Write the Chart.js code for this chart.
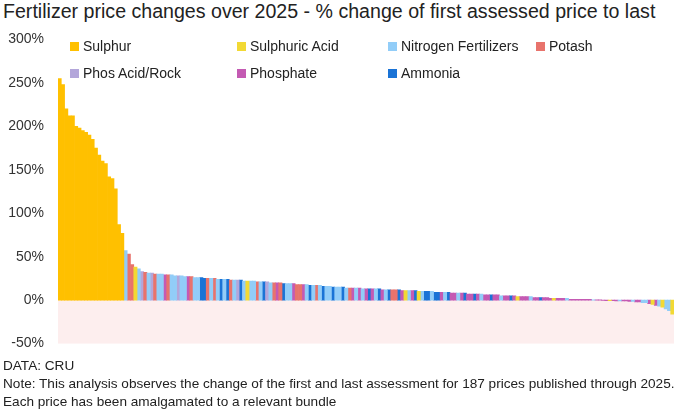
<!DOCTYPE html>
<html>
<head>
<meta charset="utf-8">
<script src="https://cdn.jsdelivr.net/npm/chart.js@4"></script>
<style>
  body { margin: 0; background: #fff; font-family: "Liberation Sans", Arial, sans-serif; color: #222; }
  #wrap { position: relative; width: 680px; height: 412px; }
  #title { position: absolute; left: 3px; top: 0px; font-size: 19.6px; }
  #chartBox { position: absolute; left: 0; top: 25px; width: 680px; height: 333px; }
  #legend { position: absolute; left: 0; top: 38px; font-size: 14px; }
  .item { position: absolute; white-space: nowrap; }
  .item i { display: inline-block; width: 9px; height: 9px; margin-right: 4px; }
  #notes { position: absolute; left: 3px; top: 357px; font-size: 13.6px; line-height: 18px; }
</style>
</head>
<body>
<div id="wrap">
  <div id="title">Fertilizer price changes over 2025 - % change of first assessed price to last</div>
  <div id="chartBox"><canvas id="c"></canvas></div>
  <div id="legend"></div>
  <div id="notes">DATA: CRU<br>Note: This analysis observes the change of the first and last assessment for 187 prices published through 2025.<br>Each price has been amalgamated to a relevant bundle</div>
</div>
<script>
const bundleNames = ['Sulphur', 'Sulphuric Acid', 'Nitrogen Fertilizers', 'Potash', 'Phos Acid/Rock', 'Phosphate', 'Ammonia'];
const bundleCodes = ['S', 'A', 'N', 'K', 'R', 'P', 'M'];
const bundleColors = ['#ffc000', '#f2d934', '#92cdf8', '#e8736c', '#b3a6da', '#c45ab3', '#1a73d6'];

const values = [
  255, 248, 220, 212, 212, 200, 198, 195, 193, 190, 185, 175, 167, 160, 157, 142, 140, 128, 87, 77,
  57, 53, 41, 38, 36, 33, 32, 31, 31, 30,
  30, 30, 29, 29, 29, 28, 28, 28, 27, 27, 27, 26, 26, 26, 25, 25, 25, 25, 24, 24, 24, 24, 23, 23, 23, 23,
  22, 22, 22, 22, 21, 21, 21, 21, 20, 20, 20, 20, 19, 19, 19, 19, 18, 18, 18, 18, 17, 17, 17, 17, 16, 16, 16, 15, 15,
  15, 15, 14, 14, 14, 14, 14, 13, 13, 13, 13, 13, 13, 12, 12, 12, 12, 12, 12, 11, 11, 11, 11, 11, 10, 10, 10, 10, 10,
  9, 9, 9, 9, 9, 8, 8, 8, 8, 8, 7, 7, 7, 7, 7, 6, 6, 6, 6, 6, 5, 5, 5, 5, 5, 4, 4, 4, 4, 4, 3, 3, 3, 3, 3,
  2, 2, 2, 2, 2, 2, 1, 1, 1, 1, 1, 1, 1, 0.5, 0.5, 0.5,
  -0.3, -0.5, -0.5, -0.5, -0.8, -1, -1, -1, -1.5, -1.5, -2, -2, -3, -3, -4, -5, -6, -7, -8, -10, -12, -16
];
const bundles = [
  'S','S','S','S','S','S','S','S','S','S','S','S','S','S','S','S','S','S','S','S',
  'N','K','K','A','N','R','K','N','R','K',
  'N','N','P','K','N', 'N','R','N','N','P', 'K','N','N','M','M', 'K','N','K','N','M', 'N','M','K','N','R',
  'M','N','A','N','N', 'K','N','M','R','N', 'K','P','K','M','N', 'N','P','K','K','P', 'N','M','N','K','N', 'M','N','N','M','N',
  'N','M','N','K','P', 'N','P','N','P','M', 'P','N','M','P','N', 'M','K','K','M','P', 'A','N','P','M','A', 'N','M','M','N','M',
  'M','P','N','M','P', 'P','N','P','M','P', 'P','M','P','N','P', 'P','M','P','P','N', 'P','P','M','P','A', 'P','P','P','N','P',
  'P','M','P','P','P', 'A','P','P','P','N', 'P','P','P','P','P', 'P','P','N','P','P',
  'P','P','A','P','P','N','P','P','P','N','P','P','N','N','P','A','P','N','A','N','N','A'
];
const yTicks = [-50, 0, 50, 100, 150, 200, 250, 300];

const labels = values.map((v, i) => i + 1);
const datasets = bundleCodes.map((code, k) => ({
  label: bundleNames[k],
  data: values.map((v, i) => bundles[i] === code ? v : null),
  backgroundColor: bundleColors[k],
  barPercentage: 1,
  categoryPercentage: 1,
  borderWidth: 0
}));

// pink band below zero
const negBand = {
  id: 'negBand',
  beforeDatasetsDraw(chart) {
    const { ctx, chartArea, scales } = chart;
    const top = scales.y.getPixelForValue(0);
    const bottom = scales.y.getPixelForValue(-50);
    ctx.save();
    ctx.fillStyle = '#fdeeee';
    ctx.fillRect(chartArea.left, top, chartArea.right - chartArea.left, bottom - top);
    ctx.restore();
  }
};

new Chart(document.getElementById('c'), {
  type: 'bar',
  data: { labels, datasets },
  plugins: [negBand],
  options: {
    responsive: true,
    maintainAspectRatio: false,
    animation: false,
    layout: { padding: { left: 0, right: 6, top: 4, bottom: 4 } },
    plugins: { legend: { display: false }, tooltip: { enabled: false } },
    scales: {
      x: { stacked: true, display: false },
      y: {
        stacked: true,
        min: -50, max: 300,
        afterBuildTicks: axis => { axis.ticks = yTicks.map(v => ({ value: v })); },
        grid: { display: false },
        border: { display: false },
        ticks: { color: '#333', font: { size: 14, family: 'Liberation Sans' }, callback: v => v + '%', padding: 6 },
        afterFit: axis => { axis.width = 58; }
      }
    }
  }
});

const legendPos = [[70, 0], [237, 0], [388, 0], [536, 0], [70, 27], [237, 27], [388, 27]];
const leg = document.getElementById('legend');
bundleNames.forEach((name, k) => {
  const d = document.createElement('div');
  d.className = 'item';
  d.style.left = legendPos[k][0] + 'px';
  d.style.top = legendPos[k][1] + 'px';
  d.innerHTML = '<i style="background:' + bundleColors[k] + '"></i>' + name;
  leg.appendChild(d);
});
</script>
</body>
</html>
